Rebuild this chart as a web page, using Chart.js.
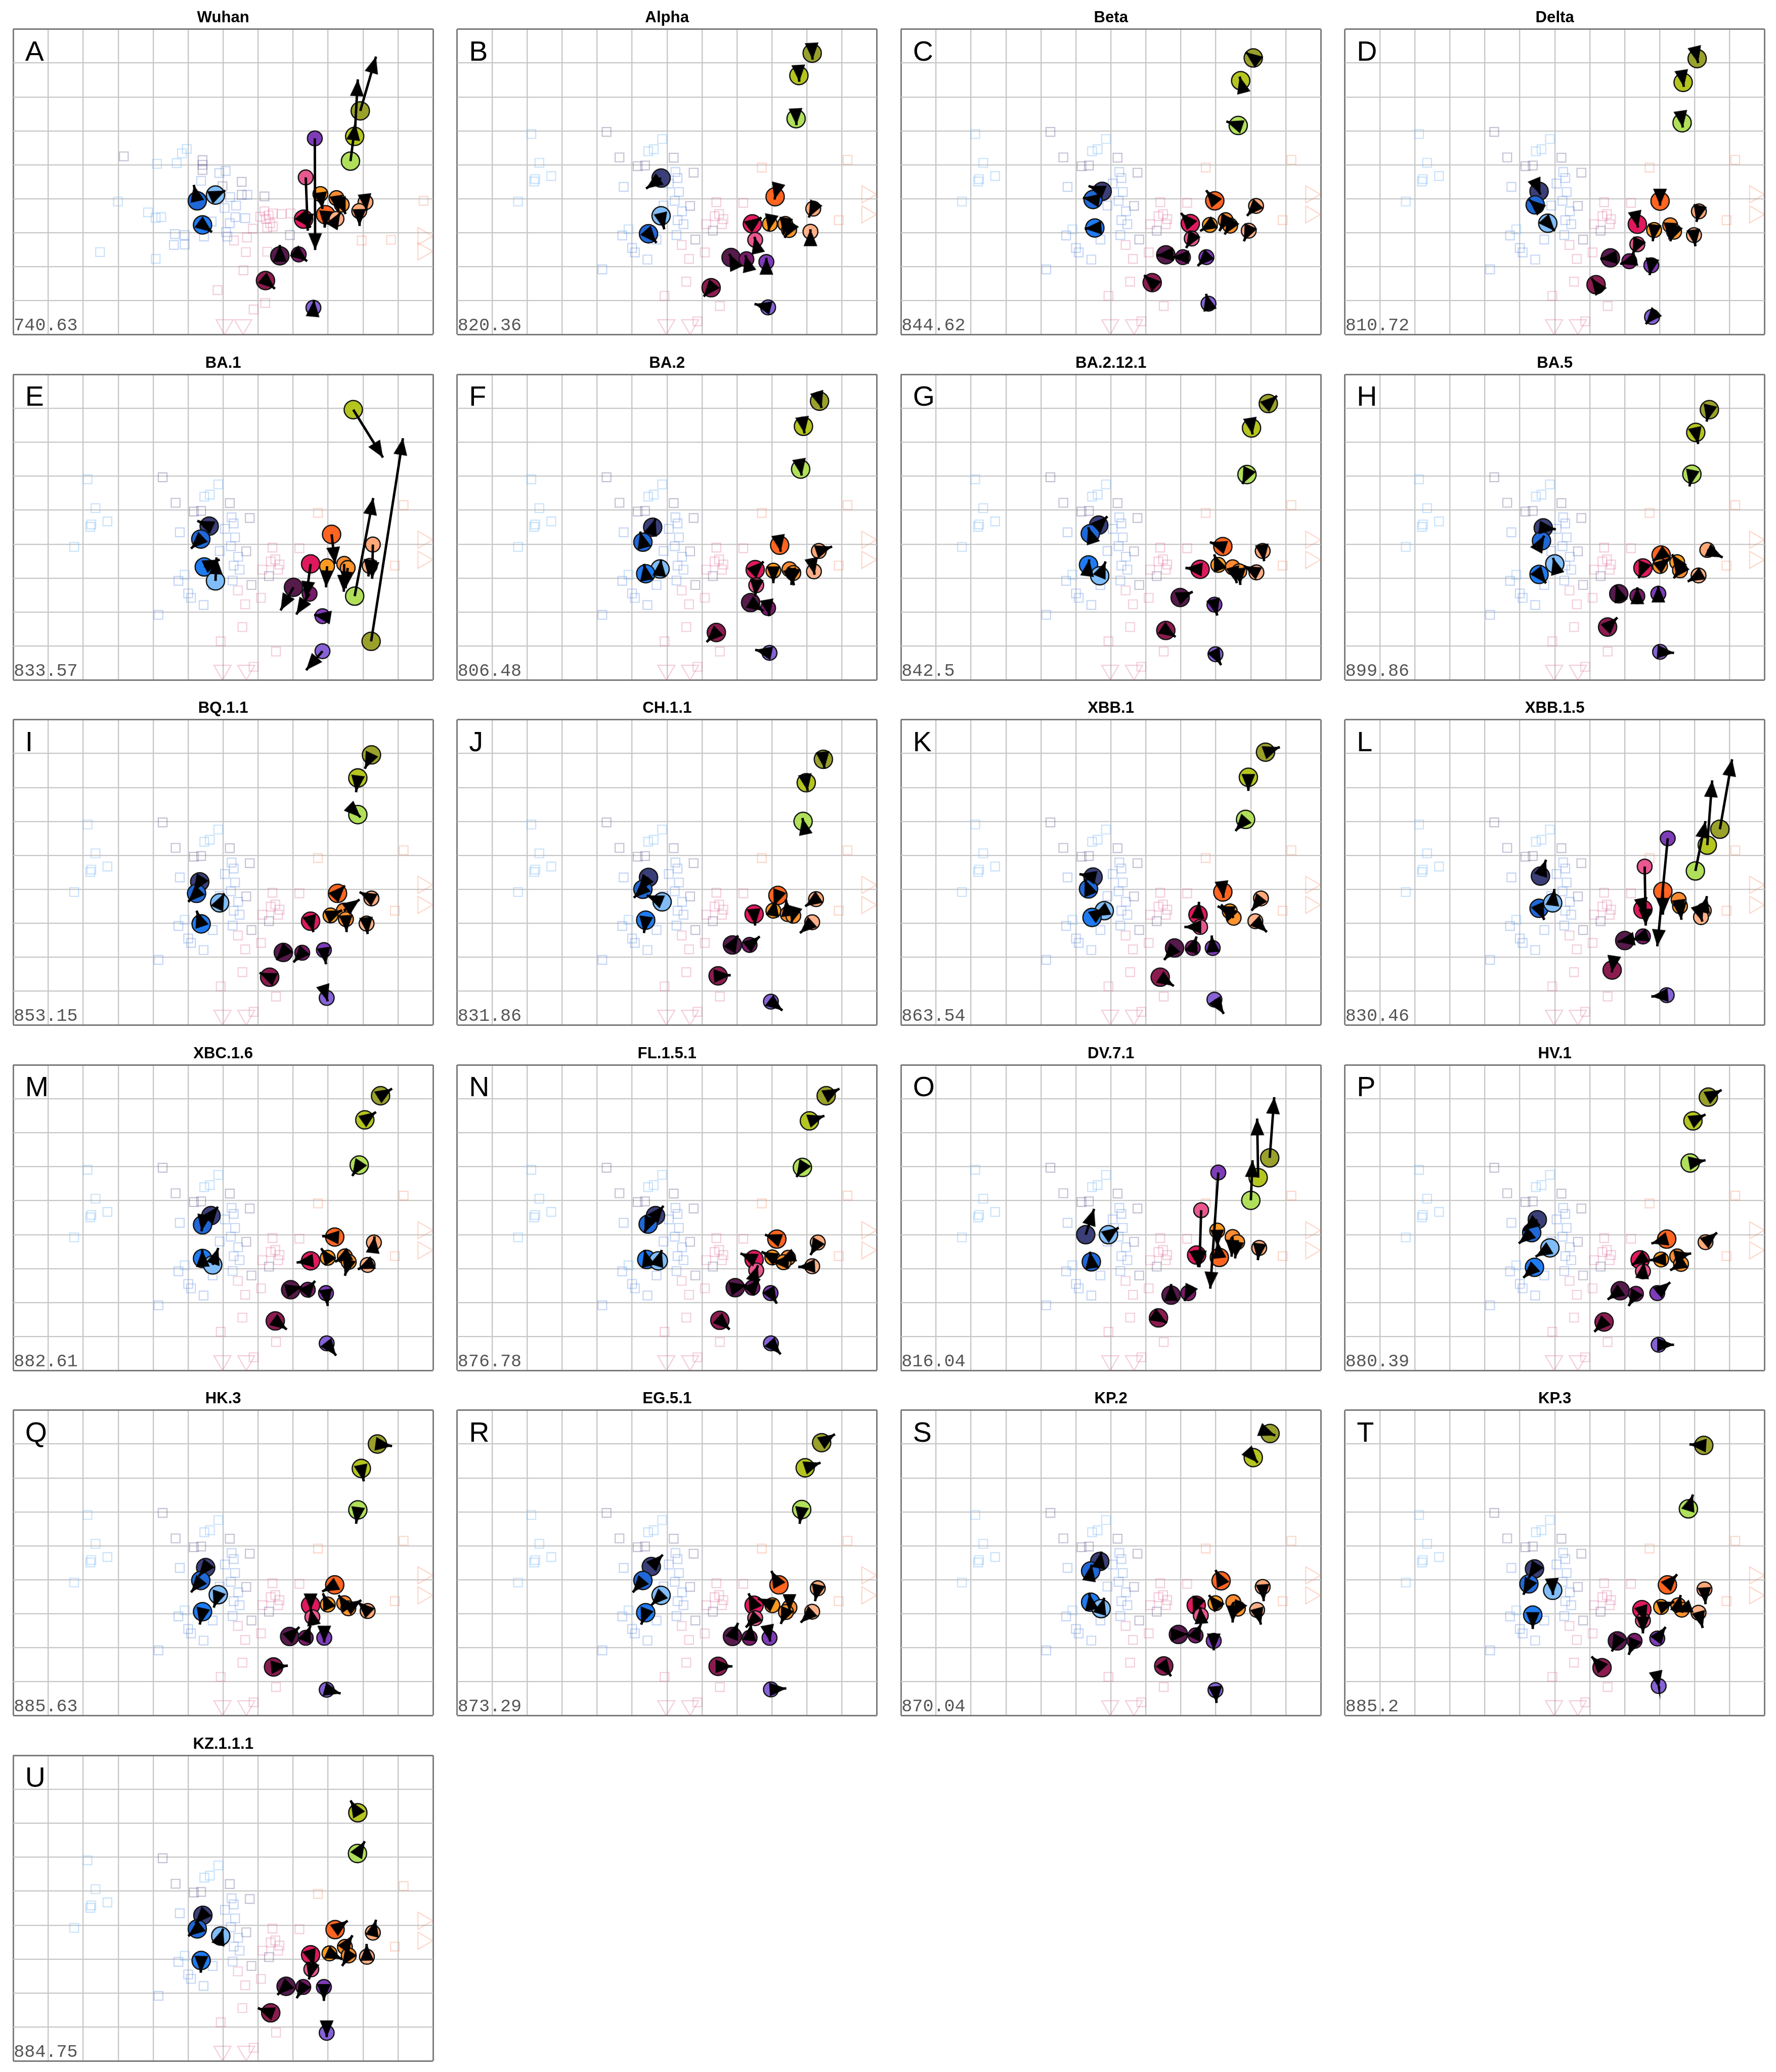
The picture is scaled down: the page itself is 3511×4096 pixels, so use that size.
<!DOCTYPE html>
<html><head><meta charset="utf-8">
<script src="https://cdn.jsdelivr.net/npm/chart.js@4"></script>
<style>
html,body{margin:0;padding:0;background:#fff;width:3511px;height:4096px;overflow:hidden}
canvas{position:absolute;display:block}
</style></head><body>
<script>
// ---------------- DATA ----------------
const panelTitles = ['Wuhan','Alpha','Beta','Delta','BA.1','BA.2','BA.2.12.1','BA.5','BQ.1.1','CH.1.1','XBB.1','XBB.1.5','XBC.1.6','FL.1.5.1','DV.7.1','HV.1','HK.3','EG.5.1','KP.2','KP.3','KZ.1.1.1'];
const panelLetters = ['A','B','C','D','E','F','G','H','I','J','K','L','M','N','O','P','Q','R','S','T','U'];
const panelStress = ['740.63','820.36','844.62','810.72','833.57','806.48','842.5','899.86','853.15','831.86','863.54','830.46','882.61','876.78','816.04','880.39','885.63','873.29','870.04','885.2','884.75'];
const xGrid = [0,12];   // map x range (grid every 1 unit)
const yGrid = [0,9];    // map y range (grid every 1 unit)

// antigen colour keys
const agColors = {NV:'#3b3f78',B1:'#2068d8',B2:'#1f7bf2',LB:'#80bdf8',PU:'#7e3cb8',PK:'#e9578f',CR:'#e0195e',MA:'#8c1c50',DP:'#561a4b',DV:'#7a1a6a',OR:'#ff9a20',DO:'#ff6520',O2:'#fb8a30',O3:'#ff922c',PE:'#ffa878',PE2:'#ffb088',OL:'#9aa12b',YG:'#b5c51f',LG:'#b0e05a',LV:'#8662d6'};
const agSmall = ['PU','PK','LV','PE','PE2','OR','O2','O3','DV'];

// sera: [x, y, colourKey]
const seraA = [[3.16,3.75,'gp'],[4.11,3.97,'lb'],[4.67,3.95,'lb'],[4.82,3.66,'lb'],[4.96,3.53,'lb'],[5.41,3.86,'gp'],[5.41,4.00,'gp'],[5.41,4.15,'gp'],[5.89,4.24,'bl'],[6.07,4.18,'bl'],[5.37,4.47,'bl'],[5.98,4.63,'gp'],[6.53,4.50,'gp'],[6.53,4.88,'gp'],[6.69,4.88,'bl'],[7.18,4.93,'gp'],[2.99,5.08,'lb'],[3.85,5.40,'lb'],[4.07,5.56,'lb'],[4.23,5.54,'lb'],[6.20,4.95,'bl'],[6.37,5.20,'bl'],[6.04,5.27,'bl'],[6.35,5.54,'bl'],[6.63,5.57,'bl'],[5.67,5.67,'bl'],[6.19,5.72,'bl'],[6.08,5.98,'bl'],[5.45,6.11,'bl'],[4.90,6.07,'bl'],[4.62,6.04,'bl'],[4.59,6.36,'bl'],[4.90,6.35,'bl'],[2.48,6.57,'lb'],[4.07,6.77,'lb'],[6.12,6.11,'bl'],
[7.18,5.37,'pk'],[7.30,5.49,'pk'],[7.42,5.43,'pk'],[7.67,5.45,'pk'],[7.93,5.43,'pk'],[7.06,5.53,'pk'],[7.22,5.59,'pk'],[7.34,5.72,'pk'],[7.26,5.85,'pk'],[7.42,5.82,'pk'],[6.85,5.88,'pk'],[6.31,6.23,'pk'],[6.68,6.14,'pk'],[7.91,6.07,'gp'],[6.65,6.57,'pk'],[7.26,6.56,'pk'],[6.58,7.11,'pk'],[5.84,7.69,'pk'],[7.20,8.07,'pk'],[6.87,8.26,'pk'],
[11.73,5.06,'sa'],[9.96,6.23,'sa'],[10.80,6.21,'sa']];
const seraATri = [[6.04,8.71,'pk',180],[6.57,8.71,'pk',180],[11.71,6.10,'sa',90],[11.71,6.55,'sa',90]];

const seraCommon = [[2.12,3.09,'lb'],[4.27,3.03,'gp'],[5.86,3.24,'lb'],[5.62,3.54,'lb'],[5.46,3.60,'lb'],[4.64,3.78,'gp'],[6.19,3.79,'gp'],[2.35,3.94,'lb'],[5.37,4.02,'gp'],[5.16,4.04,'gp'],[2.69,4.33,'lb'],[2.23,4.42,'lb'],[2.20,4.49,'lb'],[6.24,4.21,'bl'],[6.76,4.23,'gp'],[6.30,4.39,'bl'],[4.76,4.65,'bl'],[6.34,4.80,'bl'],[1.74,5.08,'lb'],[6.22,5.06,'bl'],[6.66,5.21,'gp'],[6.43,5.37,'bl'],[6.30,5.63,'bl'],[6.47,5.75,'bl'],[6.27,6.07,'bl'],[4.72,6.08,'bl'],[5.00,6.45,'bl'],[5.08,6.58,'bl'],[5.44,6.79,'bl'],[4.15,7.08,'bl'],[5.90,5.20,'bl'],[5.70,6.20,'bl'],[4.90,5.90,'lb'],[6.05,4.55,'bl'],
[7.41,5.10,'pk'],[8.18,5.12,'pk'],[7.49,5.45,'pk'],[7.36,5.51,'pk'],[7.61,5.60,'pk'],[7.57,5.75,'pk'],[7.12,5.75,'pk'],[7.31,5.94,'gp'],[6.81,6.20,'gp'],[6.42,6.36,'pk'],[7.08,6.58,'pk'],[6.63,6.77,'pk'],[6.55,7.44,'pk'],[5.93,7.86,'pk'],[7.51,8.16,'pk'],[6.87,8.61,'pk'],
[8.71,4.08,'sa'],[11.16,3.85,'sa'],[10.91,5.63,'sa']];
const seraCommonTri = [[5.98,8.71,'pk',180],[6.66,8.71,'pk',180],[11.71,4.87,'sa',90],[11.71,5.46,'sa',90]];

// antigens per map: [colourKey, x, y, arrowTipX, arrowTipY]
const agA = [['B1',5.26,5.06,5.16,4.59],['LB',5.78,4.89,6.06,4.76],['B2',5.41,5.77,5.68,5.98],['OL',9.92,2.41,10.37,0.81],['YG',9.76,3.16,9.85,1.48],['LG',9.64,3.89,9.78,2.78],['PU',8.62,3.22,8.63,6.51],['PK',8.36,4.37,8.42,5.94],['CR',8.30,5.60,8.50,5.85],['OR',8.78,4.86,8.84,5.30],['O2',9.24,4.98,9.30,5.40],['O3',9.39,5.17,9.50,5.45],['DO',8.93,5.47,8.90,5.85],['PE2',9.24,5.59,9.35,5.40],['PE',10.07,5.10,10.10,5.35],['PE',9.89,5.36,9.90,5.80],['DP',7.62,6.68,7.62,6.36],['DV',8.16,6.64,8.40,6.84],['MA',7.21,7.41,7.48,7.65],['LV',8.58,8.21,8.60,7.98]];
const agB = [['NV',5.83,4.39,5.40,4.70],['LB',5.83,5.50,5.92,5.90],['B1',5.47,6.03,5.70,6.30],['OL',10.15,0.71,10.16,0.90],['YG',9.77,1.37,9.78,1.55],['LG',9.69,2.64,9.70,2.83],['DO',9.09,4.94,9.07,5.02],['PE',10.18,5.29,10.05,5.55],['CR',8.44,5.74,8.70,5.55],['OR',8.94,5.74,8.90,5.95],['O2',9.38,5.74,9.33,6.05],['O3',9.49,5.92,9.36,6.15],['PE2',10.10,5.97,10.10,5.90],['PK',8.52,6.21,8.50,6.12],['DP',7.83,6.73,7.78,6.62],['DV',8.27,6.78,8.24,6.66],['PU',8.84,6.86,8.84,6.74],['MA',7.26,7.62,7.05,7.88],['LV',8.89,8.20,8.50,8.10]];
const agC = [['OL',10.07,0.85,9.85,0.68],['YG',9.71,1.52,9.68,1.40],['LG',9.64,2.84,9.30,2.72],['NV',5.75,4.78,5.36,4.62],['B1',5.49,5.02,5.20,4.97],['B2',5.54,5.86,5.25,5.88],['DO',8.97,5.06,8.72,4.75],['PE',10.15,5.21,9.89,5.50],['CR',8.27,5.73,8.00,5.42],['OR',8.83,5.77,8.55,5.95],['O2',9.28,5.63,9.10,5.95],['O3',9.41,5.79,9.25,6.05],['PE2',9.94,5.94,9.80,6.25],['PK',8.31,6.17,8.15,6.45],['DP',7.57,6.65,7.30,6.67],['DV',8.06,6.72,7.75,6.72],['PU',8.73,6.72,8.48,6.98],['MA',7.18,7.47,6.95,7.25],['LV',8.79,8.09,8.72,7.80]];
const agD = [['OL',10.07,0.87,10.10,1.00],['YG',9.67,1.57,9.69,1.70],['LG',9.64,2.76,9.66,2.90],['NV',5.55,4.78,5.59,4.88],['B1',5.44,5.18,5.26,5.02],['LB',5.80,5.72,6.00,5.95],['DO',9.01,5.07,9.01,5.20],['PE',10.12,5.37,10.05,5.68],['CR',8.36,5.75,8.38,5.85],['OR',8.84,5.92,8.80,6.25],['O2',9.30,5.78,9.28,6.20],['O3',9.41,5.97,9.30,6.25],['PE2',9.98,6.07,10.02,6.40],['PK',8.36,6.34,8.22,6.64],['DP',7.59,6.74,7.30,6.77],['DV',8.13,6.84,7.87,6.92],['PU',8.76,6.96,8.71,7.25],['MA',7.18,7.53,7.05,7.34],['LV',8.78,8.48,8.60,8.69]];
const agE = [['YG',9.72,1.04,10.57,2.45],['OL',10.23,7.86,11.14,1.88],['LG',9.76,6.53,10.29,3.64],['NV',5.60,4.47,5.26,4.31],['B1',5.36,4.85,5.08,5.13],['B2',5.46,5.67,5.90,5.45],['LB',5.78,6.08,5.81,5.39],['DO',9.10,4.71,9.20,5.58],['PE',10.28,5.01,10.26,6.02],['PE2',10.19,5.64,10.15,5.95],['CR',8.50,5.58,8.37,6.59],['OR',8.97,5.65,8.94,6.27],['O2',9.46,5.58,9.45,6.40],['O3',9.56,5.70,9.50,6.30],['DP',8.01,6.27,7.64,6.95],['DV',8.47,6.46,8.09,7.07],['PU',8.84,7.12,8.60,7.08],['LV',8.84,8.15,8.37,8.71]];
const agF = [['OL',10.36,0.79,10.42,0.99],['YG',9.90,1.53,9.93,1.74],['LG',9.82,2.79,9.85,2.98],['NV',5.59,4.50,5.67,4.25],['B1',5.31,4.94,5.23,4.63],['LB',5.80,5.73,5.83,5.45],['B2',5.39,5.87,5.34,5.58],['DO',9.22,5.03,9.25,5.22],['PE',10.34,5.20,10.72,5.07],['CR',8.52,5.75,8.76,5.51],['OR',9.04,5.78,9.04,6.15],['O2',9.50,5.74,9.63,6.21],['O3',9.61,5.85,9.55,6.20],['PE2',10.20,5.80,10.22,5.90],['PK',8.55,6.21,8.52,6.53],['DP',8.39,6.72,8.76,6.97],['DV',8.89,6.88,8.93,7.12],['MA',7.41,7.60,7.13,7.88],['LV',8.93,8.20,8.52,8.11]];
const agG = [['OL',10.50,0.86,10.75,0.63],['YG',10.02,1.58,10.05,1.77],['LG',9.89,2.95,9.76,3.23],['NV',5.65,4.44,5.90,4.18],['B1',5.41,4.69,5.35,4.50],['B2',5.36,5.61,5.38,5.45],['LB',5.68,5.93,5.85,5.51],['DO',9.20,5.07,8.83,4.94],['PE',10.34,5.20,10.38,5.50],['CR',8.55,5.74,8.13,5.70],['OR',9.07,5.61,8.95,5.30],['O2',9.48,5.68,9.60,6.15],['O3',9.67,5.80,9.70,6.20],['PE2',10.16,5.83,9.80,5.64],['DP',7.98,6.57,8.34,6.40],['PU',8.96,6.78,9.04,7.10],['MA',7.57,7.54,7.85,7.73],['LV',8.99,8.24,9.15,8.56]];
const agH = [['OL',10.42,1.04,10.34,1.39],['YG',10.03,1.71,10.10,2.05],['LG',9.92,2.94,9.85,3.30],['NV',5.67,4.52,6.03,4.56],['B1',5.62,4.90,5.70,4.75],['LB',6.00,5.58,5.95,5.40],['B2',5.55,5.89,5.75,6.15],['DO',9.04,5.32,8.80,5.50],['PE',10.36,5.17,10.80,5.39],['OR',9.50,5.53,9.35,5.30],['O2',9.58,5.77,9.40,6.00],['CR',8.52,5.70,8.40,6.00],['O3',9.01,5.64,9.30,5.40],['PE2',10.11,5.92,9.80,6.10],['DP',7.83,6.46,7.75,6.21],['DV',8.36,6.53,8.36,6.27],['PU',8.96,6.46,8.96,6.22],['MA',7.51,7.44,7.79,7.16],['LV',9.01,8.17,9.41,8.20]];
const agI = [['OL',10.24,1.04,10.05,1.45],['YG',9.85,1.72,9.80,2.14],['LG',9.85,2.80,9.93,2.88],['NV',5.33,4.78,5.16,5.06],['B1',5.24,5.12,5.00,5.37],['LB',5.90,5.40,6.03,5.12],['B2',5.37,6.02,5.24,5.63],['DO',9.27,5.12,9.48,4.89],['PE',10.24,5.27,9.90,5.08],['OR',9.07,5.77,9.40,5.62],['O2',9.45,5.63,9.90,5.30],['O3',9.51,5.88,9.53,6.26],['CR',8.50,5.94,8.58,6.26],['PE2',10.10,6.01,10.13,6.32],['DP',7.72,6.86,7.52,7.08],['DV',8.26,6.87,8.01,7.15],['PU',8.88,6.79,8.94,7.21],['MA',7.33,7.59,7.04,7.46],['LV',8.96,8.20,8.99,8.30]];
const agJ = [['OL',10.47,1.17,10.50,1.44],['YG',9.98,1.86,10.02,2.10],['LG',9.89,3.00,9.87,2.90],['NV',5.47,4.65,5.18,5.06],['B1',5.31,5.00,5.05,5.25],['LB',5.86,5.37,5.42,5.18],['B2',5.39,5.91,5.34,6.29],['DO',9.17,5.18,9.05,5.50],['PE',10.26,5.29,9.95,5.50],['OR',9.04,5.63,9.10,5.30],['O2',9.45,5.73,9.40,5.30],['O3',9.61,5.78,9.55,6.00],['CR',8.49,5.73,8.52,6.07],['PE2',10.15,5.97,9.80,6.29],['DP',7.87,6.64,8.03,6.36],['DV',8.36,6.64,8.65,6.39],['MA',7.46,7.55,7.82,7.53],['LV',8.97,8.31,9.30,8.57]];
const agK = [['OL',10.42,0.96,10.83,0.81],['YG',9.93,1.70,9.93,2.10],['LG',9.85,2.94,9.56,3.28],['NV',5.49,4.64,5.10,4.55],['B1',5.36,4.99,5.25,4.70],['LB',5.81,5.63,5.50,5.80],['B2',5.46,5.83,5.85,5.55],['DO',9.20,5.08,9.22,5.25],['PE',10.29,5.27,10.02,5.63],['CR',8.49,5.75,8.52,5.37],['PK',8.55,6.11,8.10,6.11],['OR',9.40,5.65,9.05,5.50],['O3',9.51,5.84,9.15,5.45],['PE2',10.13,5.94,10.46,6.26],['DP',7.82,6.73,7.52,7.08],['DV',8.34,6.73,8.45,6.39],['PU',8.91,6.73,8.88,6.36],['MA',7.41,7.59,7.80,7.85],['LV',8.96,8.25,9.23,8.67]];
const agL = [['OL',10.72,3.23,11.07,1.17],['YG',10.36,3.70,10.50,1.79],['LG',10.02,4.46,10.31,2.99],['PU',9.23,3.50,8.93,6.68],['PK',8.57,4.33,8.60,6.07],['NV',5.59,4.61,5.75,4.13],['B1',5.55,5.56,5.70,5.90],['LB',5.94,5.40,5.99,4.99],['DO',9.09,5.06,9.09,5.75],['OR',9.58,5.50,9.62,5.90],['O2',9.54,5.31,9.60,5.80],['PE',10.26,5.63,10.35,5.20],['PE2',10.18,5.82,10.22,5.95],['CR',8.52,5.59,8.55,5.75],['DP',8.00,6.51,7.80,6.55],['DV',8.52,6.39,8.20,6.50],['MA',7.64,7.38,7.63,7.45],['LV',9.20,8.12,8.76,8.16]];
const agM = [['OL',10.50,0.91,10.83,0.70],['YG',10.05,1.62,10.37,1.39],['LG',9.89,2.95,9.69,3.27],['NV',5.65,4.44,5.85,4.18],['B1',5.41,4.71,5.38,4.90],['B2',5.41,5.70,5.40,5.45],['LB',5.70,5.89,5.86,5.39],['DO',9.19,5.07,8.83,5.04],['PE',10.31,5.23,10.33,5.05],['CR',8.50,5.77,8.10,5.82],['OR',8.99,5.68,8.80,5.40],['O2',9.48,5.64,9.20,5.80],['O3',9.59,5.80,9.48,6.21],['PE2',10.13,5.89,9.85,6.02],['DP',7.93,6.62,8.26,6.53],['DV',8.42,6.62,8.63,6.36],['PU',8.94,6.72,8.99,7.10],['MA',7.49,7.54,7.82,7.79],['LV',8.96,8.20,9.23,8.56]];
const agN = [['OL',10.55,0.91,10.93,0.70],['YG',10.07,1.65,10.50,1.50],['LG',9.87,3.02,9.70,3.30],['NV',5.67,4.44,5.90,4.15],['B1',5.46,4.69,5.35,4.95],['B2',5.42,5.73,5.35,5.45],['LB',5.75,5.77,5.85,5.45],['DO',9.14,5.13,8.80,5.00],['PE',10.31,5.23,10.10,5.60],['CR',8.49,5.73,8.10,5.55],['OR',9.01,5.67,8.70,5.50],['O2',9.46,5.68,9.20,5.80],['O3',9.33,5.81,9.00,5.80],['PE2',10.15,5.93,9.75,5.95],['PK',8.55,6.05,8.60,5.90],['DP',7.95,6.56,8.28,6.48],['DV',8.44,6.56,8.65,6.30],['PU',8.96,6.72,9.14,7.03],['MA',7.51,7.52,7.79,7.79],['LV',8.97,8.20,9.25,8.52]];
const agO = [['OL',10.54,2.74,10.67,0.95],['YG',10.21,3.32,10.18,1.58],['LG',10.00,3.99,10.05,2.81],['PU',9.07,3.17,8.84,6.59],['PK',8.58,4.28,8.53,5.96],['NV',5.28,5.00,5.52,4.24],['LB',5.93,5.00,6.22,4.79],['B1',5.44,5.80,5.40,5.50],['OR',9.04,4.88,9.05,5.35],['DO',9.10,5.67,9.05,5.20],['O2',9.48,5.07,9.45,5.65],['O3',9.61,5.22,9.55,5.70],['PE',10.24,5.39,10.20,5.75],['CR',8.45,5.60,8.50,5.95],['DP',7.72,6.78,7.72,6.45],['DV',8.21,6.72,8.10,6.95],['MA',7.36,7.45,7.60,7.60]];
const agP = [['OL',10.39,0.95,10.77,0.74],['YG',9.95,1.65,10.31,1.46],['LG',9.87,2.89,10.31,2.81],['NV',5.50,4.56,5.10,4.88],['B1',5.34,4.94,4.97,5.26],['LB',5.86,5.39,5.45,5.65],['B2',5.42,5.96,5.10,6.27],['DO',9.20,5.13,8.76,5.26],['PE',10.31,5.22,10.64,4.94],['CR',8.44,5.74,8.20,5.90],['OR',9.04,5.73,8.70,5.75],['O2',9.50,5.64,9.90,5.55],['O3',9.61,5.86,9.30,6.05],['PK',8.52,6.08,8.55,5.80],['DP',7.87,6.65,7.51,6.91],['DV',8.32,6.74,8.11,7.10],['PU',8.93,6.72,9.30,6.40],['MA',7.41,7.57,7.13,7.86],['LV',8.97,8.24,9.41,8.24]];
const agQ = [['OL',10.41,1.00,10.83,1.06],['YG',9.95,1.72,10.02,2.10],['LG',9.85,2.94,9.80,3.35],['NV',5.50,4.64,5.30,4.90],['B1',5.36,5.02,5.08,5.37],['LB',5.86,5.44,5.73,5.82],['B2',5.41,5.94,5.33,6.32],['DO',9.19,5.15,8.83,5.35],['OR',8.99,5.73,8.85,5.40],['O2',9.46,5.69,9.30,5.45],['O3',9.58,5.84,9.95,5.60],['PE',10.13,5.92,9.85,5.65],['CR',8.50,5.75,8.50,5.90],['PK',8.55,6.10,8.50,5.85],['DP',7.90,6.67,8.18,6.39],['DV',8.36,6.71,8.50,6.35],['PU',8.89,6.71,8.89,6.85],['MA',7.44,7.57,7.85,7.53],['LV',8.96,8.24,9.36,8.35]];
const agR = [['OL',10.42,0.96,10.80,0.71],['YG',9.95,1.70,10.39,1.55],['LG',9.85,2.93,9.79,3.35],['NV',5.55,4.61,5.88,4.26],['B1',5.31,5.02,5.02,5.37],['LB',5.83,5.46,5.55,5.75],['B2',5.39,5.97,5.26,6.32],['DO',9.20,5.15,8.98,4.74],['PE',10.31,5.25,10.23,5.63],['CR',8.49,5.75,8.33,5.40],['OR',9.01,5.75,8.60,5.55],['O2',9.50,5.82,9.50,5.92],['O3',9.40,5.95,9.25,6.30],['PE2',10.15,5.94,9.82,6.26],['PK',8.52,6.13,8.25,6.40],['DP',7.87,6.67,8.03,6.27],['DV',8.36,6.71,8.40,6.30],['PU',8.93,6.71,8.95,6.82],['MA',7.46,7.55,7.87,7.55],['LV',8.97,8.23,9.41,8.20]];
const agS = [['OL',10.55,0.69,10.70,0.75],['YG',10.07,1.40,10.20,1.55],['NV',5.68,4.46,5.73,4.17],['B1',5.42,4.74,5.45,4.55],['B2',5.42,5.66,5.38,5.40],['LB',5.72,5.85,5.81,5.53],['DO',9.15,5.03,8.99,4.71],['PE',10.34,5.21,10.37,5.63],['CR',8.44,5.75,8.35,6.00],['OR',8.99,5.69,8.80,5.45],['O2',9.50,5.66,9.48,6.26],['O3',9.63,5.85,9.50,6.10],['PE2',10.18,5.89,10.29,6.32],['PK',8.57,6.05,8.55,5.80],['DP',7.93,6.61,8.20,6.60],['DV',8.42,6.64,8.58,6.29],['PU',8.94,6.80,8.94,7.08],['MA',7.51,7.54,7.72,7.84],['LV',8.99,8.25,9.02,8.63]];
const agT = [['OL',10.26,1.04,9.85,1.01],['LG',9.82,2.91,9.95,2.49],['NV',5.42,4.68,5.25,4.95],['B1',5.26,5.12,5.10,5.44],['LB',5.94,5.31,5.95,5.45],['B2',5.37,6.04,5.37,6.45],['DO',9.22,5.15,9.50,4.84],['PE',10.28,5.28,10.31,5.72],['CR',8.49,5.88,8.60,6.25],['OR',9.04,5.80,9.42,5.65],['O2',9.53,5.75,9.60,5.45],['O3',9.63,5.88,9.45,5.95],['PE2',10.11,5.97,10.23,6.42],['PK',8.52,6.20,8.52,6.58],['DP',7.79,6.80,7.63,7.11],['DV',8.28,6.80,8.11,7.21],['PU',8.93,6.73,9.17,6.39],['MA',7.35,7.59,7.05,7.26],['LV',8.97,8.13,8.98,8.18]];
const agU = [['YG',9.85,1.69,9.64,1.33],['LG',9.84,2.89,10.05,2.53],['NV',5.42,4.71,5.20,4.95],['B1',5.26,5.11,5.00,5.32],['LB',5.93,5.32,6.00,5.10],['B2',5.37,6.04,5.36,6.40],['DO',9.20,5.13,9.56,4.87],['PE',10.28,5.22,10.37,4.84],['OR',9.04,5.83,9.40,6.00],['O2',9.48,5.64,9.70,5.30],['O3',9.59,5.89,9.40,6.20],['PE2',10.11,5.93,10.10,5.55],['CR',8.50,5.87,8.60,6.20],['PK',8.52,6.30,8.45,6.60],['DP',7.80,6.80,7.55,7.05],['DV',8.29,6.82,8.10,7.15],['PU',8.88,6.82,8.88,7.23],['MA',7.36,7.58,6.99,7.44],['LV',8.96,8.17,8.96,8.30]];

const panelAntigens = [agA,agB,agC,agD,agE,agF,agG,agH,agI,agJ,agK,agL,agM,agN,agO,agP,agQ,agR,agS,agT,agU];

// ---------------- STYLE / RENDER ----------------
const S = 0.975;
const seraColors = {lb:'rgba(110,180,245,0.38)',bl:'rgba(70,125,225,0.32)',gp:'rgba(70,60,120,0.32)',pk:'rgba(215,90,140,0.30)',sa:'rgba(250,130,90,0.33)'};
const FRAME_W = 851*S, FRAME_H = 637*S;

const arrowHead = (function(){
  const L = 34*S, W = 28*S;
  const n = Math.ceil(2*L) + 4;
  const c = document.createElement('canvas');
  c.width = n; c.height = n;
  const g = c.getContext('2d');
  const m = n/2;
  g.fillStyle = '#000';
  g.beginPath(); g.moveTo(m, m); g.lineTo(m - W/2, m + L); g.lineTo(m + W/2, m + L); g.closePath(); g.fill();
  return c;
})();

const panelText = {
  id: 'panelText',
  beforeDatasetsDraw(chart, args, opts) {
    const ctx = chart.ctx, a = chart.chartArea;
    ctx.save();
    ctx.textAlign = 'left'; ctx.textBaseline = 'alphabetic';
    ctx.fillStyle = '#000';
    ctx.font = (57*S) + 'px "Liberation Sans", Arial, sans-serif';
    ctx.fillText(opts.letter, a.left + 24*S, a.top + 64*S);
    ctx.fillStyle = '#555';
    ctx.font = (36*S) + 'px "Liberation Mono", monospace';
    ctx.fillText(opts.stress, a.left + 1*S, a.bottom - 9*S);
    ctx.restore();
  }
};

function gridColor(c, max) {
  const v = c.tick ? c.tick.value : -1;
  return (v === 0 || v === max) ? '#7a7a7a' : '#c6c6c6';
}
function gridWidth(c, max) {
  const v = c.tick ? c.tick.value : -1;
  return (v === 0 || v === max) ? 3*S : 2.4*S;
}

for (let i = 0; i < panelTitles.length; i++) {
  const col = i % 4, row = Math.floor(i / 4);
  const left = Math.round(877.5*col), top = Math.round(682.5*row);
  const W = 878, H = 683;
  const fL = (27 + 900*col)*S - left;
  const fT = (59 + 700*row)*S - top;
  const cv = document.createElement('canvas');
  cv.width = W; cv.height = H;
  cv.style.left = left + 'px'; cv.style.top = top + 'px';
  cv.style.width = W + 'px'; cv.style.height = H + 'px';
  document.body.appendChild(cv);

  const ags = panelAntigens[i];
  const sera = i === 0 ? seraA : seraCommon;
  const seraTri = i === 0 ? seraATri : seraCommonTri;

  const datasets = [];
  // arrowheads (top-most)
  datasets.push({
    type: 'scatter', order: 0,
    data: ags.map(a => ({x: a[3], y: a[4], sx: a[1], sy: a[2]})),
    pointStyle: arrowHead, pointRadius: 1, showLine: false,
    pointRotation: (ctx) => {
      const p = ctx.raw; if (!p) return 0;
      const xs = ctx.chart.scales.x, ys = ctx.chart.scales.y;
      const dx = xs.getPixelForValue(p.x) - xs.getPixelForValue(p.sx);
      const dy = ys.getPixelForValue(p.y) - ys.getPixelForValue(p.sy);
      return Math.atan2(dx, -dy) * 180 / Math.PI;
    }
  });
  // arrow shafts
  ags.forEach(a => datasets.push({
    type: 'line', order: 1,
    data: [{x: a[1], y: a[2]}, {x: a[3], y: a[4]}],
    borderColor: '#000', borderWidth: 5*S, pointRadius: 0, fill: false, tension: 0
  }));
  // antigens
  datasets.push({
    type: 'scatter', order: 2,
    data: ags.map(a => ({x: a[1], y: a[2]})),
    pointStyle: 'circle',
    pointRadius: ags.map(a => agSmall.includes(a[0]) ? 15*S : 18.5*S),
    pointBackgroundColor: ags.map(a => agColors[a[0]]),
    pointBorderColor: '#151515', pointBorderWidth: 2.6*S
  });
  // sera squares
  datasets.push({
    type: 'scatter', order: 3,
    data: sera.map(s => ({x: s[0], y: s[1]})),
    pointStyle: 'rect', pointRadius: 12.5*S,
    pointBackgroundColor: 'rgba(0,0,0,0)',
    pointBorderColor: sera.map(s => seraColors[s[2]]),
    pointBorderWidth: 2.2*S
  });
  // sera out-of-range triangles
  datasets.push({
    type: 'scatter', order: 3,
    data: seraTri.map(s => ({x: s[0], y: s[1]})),
    pointStyle: 'triangle', pointRadius: 20*S,
    pointRotation: seraTri.map(s => s[3]),
    pointBackgroundColor: 'rgba(0,0,0,0)',
    pointBorderColor: seraTri.map(s => seraColors[s[2]]),
    pointBorderWidth: 2.2*S
  });

  new Chart(cv, {
    type: 'scatter',
    data: { datasets },
    options: {
      responsive: false, animation: false, devicePixelRatio: 1, events: [],
      layout: { padding: { left: fL, right: W - fL - FRAME_W, top: 0, bottom: H - fT - FRAME_H } },
      scales: {
        x: { type: 'linear', min: xGrid[0], max: xGrid[1],
             ticks: { display: false, stepSize: 1 },
             grid: { drawTicks: false, color: c => gridColor(c, xGrid[1]), lineWidth: c => gridWidth(c, xGrid[1]) },
             border: { display: false } },
        y: { type: 'linear', min: yGrid[0], max: yGrid[1], reverse: true,
             ticks: { display: false, stepSize: 1 },
             grid: { drawTicks: false, color: c => gridColor(c, yGrid[1]), lineWidth: c => gridWidth(c, yGrid[1]) },
             border: { display: false } }
      },
      plugins: {
        legend: { display: false }, tooltip: { enabled: false },
        title: { display: true, text: panelTitles[i], color: '#000',
                 font: { family: '"Liberation Sans", Arial, sans-serif', size: 32*S, weight: 'bold', lineHeight: 1.2 },
                 padding: { top: fT - 32*S*1.2 - 3, bottom: 3 } },
        panelText: { letter: panelLetters[i], stress: panelStress[i] }
      }
    },
    plugins: [panelText]
  });
}
</script>
</body></html>
